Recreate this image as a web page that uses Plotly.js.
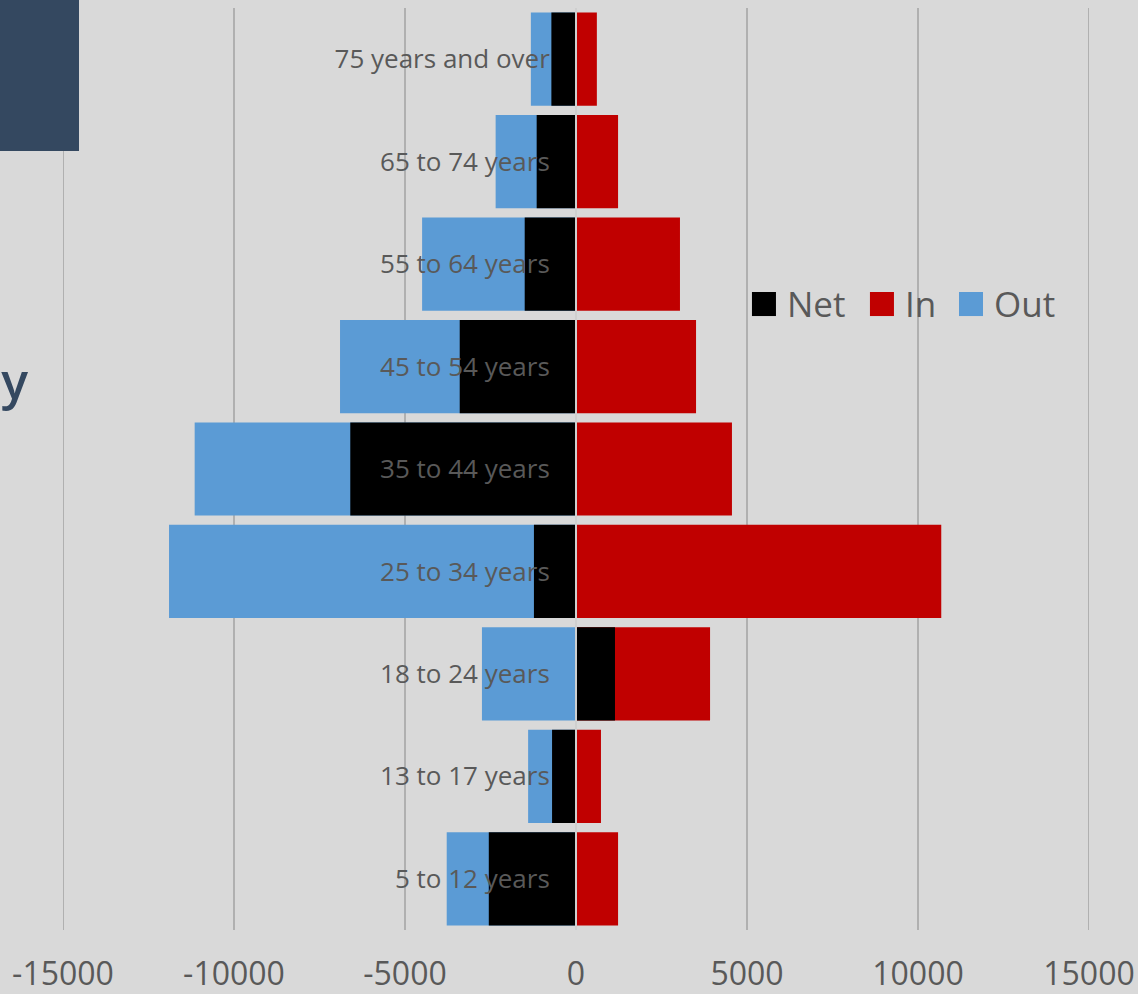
<!DOCTYPE html>
<html>
<head>
<meta charset="utf-8">
<script src="https://cdn.plot.ly/plotly-3.0.1.min.js"></script>
<style>html,body{margin:0;padding:0;background:#d9d9d9;}#chart{width:1138px;height:994px;}</style>
</head>
<body>
<div id="chart"></div>
<script>
// Categories (bottom to top)
const ageGroups = ["5 to 12 years", "13 to 17 years", "18 to 24 years", "25 to 34 years",
  "35 to 44 years", "45 to 54 years", "55 to 64 years", "65 to 74 years", "75 years and over"];
// Series values
const outValues = [-3780, -1400, -2750, -11900, -11150, -6900, -4500, -2350, -1320];
const inValues  = [1230, 730, 3920, 10680, 4560, 3510, 3040, 1230, 610];
const netValues = [-2550, -700, 1140, -1230, -6600, -3400, -1500, -1150, -720];
// Tick labels
const xTickValues = [-15000, -10000, -5000, 0, 5000, 10000, 15000];
const xTickLabels = ["-15000", "-10000", "-5000", "0", "5000", "10000", "15000"];
// Legend entries (order shown)
const legendNames = ["Net", "In", "Out"];

const colors = {Net: "#000000", In: "#c00000", Out: "#5b9bd5"};
const textGray = "#595959";
const gridGray = "#b0b0b0";
const font = "'Open Sans', 'Noto Sans', sans-serif";

const traces = [
  {type: "bar", orientation: "h", name: "Out", y: ageGroups, x: outValues,
   marker: {color: colors.Out}, showlegend: false, hoverinfo: "x+y"},
  {type: "bar", orientation: "h", name: "In", y: ageGroups, x: inValues,
   marker: {color: colors.In}, showlegend: false, hoverinfo: "x+y"},
  {type: "bar", orientation: "h", name: "Net", y: ageGroups, x: netValues,
   marker: {color: colors.Net}, showlegend: false, hoverinfo: "x+y"}
];

const xRange = [xTickValues[0], xTickValues[xTickValues.length - 1]];

const shapes = [];
// gridlines at the two ends of the range (plotly omits them at the plot edge)
[xRange[0], xRange[1]].forEach(v => {
  shapes.push({type: "line", xref: "x", yref: "paper", x0: v, x1: v, y0: 0, y1: 1,
    line: {color: gridGray, width: 2}, layer: "below"});
});
// cropped title box
shapes.push({type: "rect", xref: "paper", yref: "paper", x0: -0.1, x1: 0.0156, y0: 0.8449, y1: 1.05,
   fillcolor: "#344860", line: {width: 0}, layer: "above"});

const annotations = [
  {xref: "paper", yref: "paper", x: -0.0322, y: 0.5966, xanchor: "right", yanchor: "middle",
   text: "by", showarrow: false, font: {family: font, size: 50, color: "#344860", weight: 600}}
];

// custom legend (large square swatches)
const legX = [0.6715, 0.7865, 0.8733];
const legSize = 0.0234;
legendNames.forEach((n, i) => {
  shapes.push({type: "rect", xref: "paper", yref: "paper",
    x0: legX[i], x1: legX[i] + legSize, y0: 0.6659, y1: 0.6920,
    fillcolor: colors[n], line: {width: 0}, layer: "above"});
  annotations.push({xref: "paper", yref: "paper", x: legX[i] + legSize + 0.009, y: 0.6795,
    xanchor: "left", yanchor: "middle", text: n, showarrow: false,
    font: {family: font, size: 35, color: textGray}});
});

const layout = {
  width: 1138, height: 994,
  margin: {l: 63, r: 49, t: 8, b: 64, pad: 0},
  paper_bgcolor: "#d9d9d9", plot_bgcolor: "#d9d9d9",
  barmode: "overlay", bargap: 0.09,
  showlegend: false,
  xaxis: {range: xRange, tickmode: "array", tickvals: xTickValues, ticktext: xTickLabels,
    showgrid: true, gridcolor: gridGray, gridwidth: 2, zeroline: false, showline: false,
    ticks: "", ticklabelstandoff: 22, tickfont: {family: font, size: 32, color: textGray}},
  yaxis: {type: "category", categoryorder: "array", categoryarray: ageGroups,
    anchor: "free", position: 0.5, showgrid: false, zeroline: false,
    showline: true, linecolor: "#cfcfcf", linewidth: 2, ticks: "", ticklabelstandoff: 20,
    tickfont: {family: font, size: 26, color: textGray}},
  shapes: shapes,
  annotations: annotations
};

Plotly.newPlot("chart", traces, layout, {displayModeBar: false, staticPlot: true});
</script>
</body>
</html>
